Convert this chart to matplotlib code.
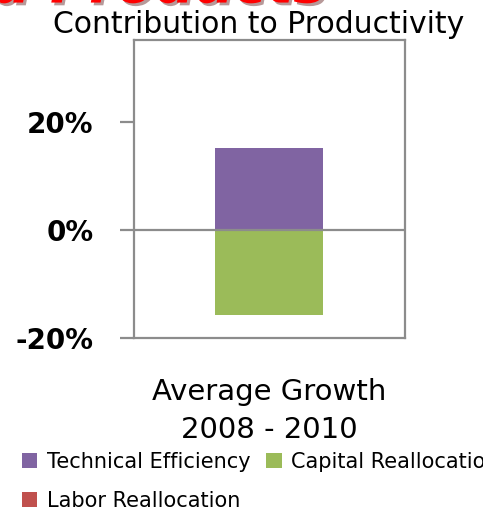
import matplotlib.pyplot as plt
import matplotlib.patheffects as pe

# data (percent)
categories = ['Average Growth\n2008 - 2010']
series_names = ['Technical Efficiency', 'Capital Reallocation', 'Labor Reallocation']
series_values = [[15.2], [-15.7], [0.0]]
series_colors = ['#8064A2', '#9BBB59', '#C0504D']
yticks = [-20, 0, 20]
ytick_labels = ['-20%', '0%', '20%']

plt.rcParams['font.family'] = ['DejaVu Sans']
grey = '#8c8c8c'

fig = plt.figure(figsize=(4.83, 5.12), dpi=100)
ax = fig.add_axes([0.277, 0.340, 0.561, 0.582])

x = list(range(len(categories)))
pos_base = [0.0] * len(categories)
neg_base = [0.0] * len(categories)
handles = []
for name, vals, col in zip(series_names, series_values, series_colors):
    bottoms = []
    for i, v in enumerate(vals):
        if v >= 0:
            bottoms.append(pos_base[i])
            pos_base[i] += v
        else:
            bottoms.append(neg_base[i] + v)
            neg_base[i] += v
    heights = [abs(v) for v in vals]
    h = ax.bar(x, heights, bottom=bottoms, width=0.40, color=col, label=name, zorder=2)
    handles.append(h)

ax.axhline(0, color=grey, lw=1.6, zorder=3)
ax.set_xlim(-0.5, 0.5)
ax.set_ylim(-20, 35.2)
ax.set_yticks(yticks)
ax.set_yticklabels(ytick_labels, fontsize=20, fontweight='bold', color='black')
ax.set_xticks([])
ax.set_xlabel(categories[0], fontsize=21, labelpad=29, linespacing=1.45)
for s in ax.spines.values():
    s.set_color(grey)
    s.set_linewidth(1.6)
ax.tick_params(axis='y', direction='out', length=10, width=1.6, color=grey, pad=19)

fig.text(0.535, 0.9355, 'Contribution to Productivity', fontsize=21.5,
         ha='center', va='baseline')
fig.text(0.675, 0.995, 'Food Products', fontsize=40, color='#ff0000',
         fontweight='bold', style='italic', ha='right', va='baseline',
         path_effects=[pe.SimplePatchShadow(offset=(2, -2), alpha=0.4), pe.Normal()])

# legend is filled column by column, so order it to read row by row
order = [0, 2, 1]
fig.legend(handles=[handles[i] for i in order], labels=[series_names[i] for i in order],
           loc='lower left', bbox_to_anchor=(0.028, -0.014), ncol=2, frameon=False,
           fontsize=15, handlelength=0.75, handleheight=0.75, handletextpad=0.45,
           columnspacing=0.75, labelspacing=0.9, borderaxespad=0)

fig.savefig('out.png', dpi=100)
